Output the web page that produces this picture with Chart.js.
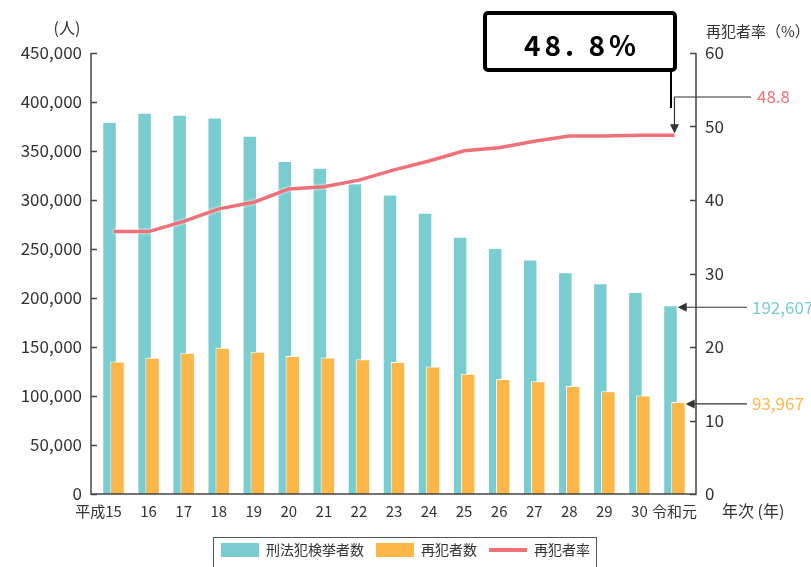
<!DOCTYPE html>
<html><head><meta charset="utf-8">
<script src="https://cdn.jsdelivr.net/npm/chart.js@4/dist/chart.umd.min.js"></script>
<style>html,body{margin:0;padding:0;background:#fff}#wrap{width:811px;height:567px;position:relative}canvas{display:block}</style>
</head><body><div id="wrap"><canvas id="c" width="811" height="567" style="width:811px;height:567px"></canvas></div>
<script>
const categories = ['平成15','16','17','18','19','20','21','22','23','24','25','26','27','28','29','30','令和元'];
const arrestees = [379602,389027,386955,384250,365577,339752,332888,317000,305631,287021,262486,251115,239355,226376,215003,206094,192607];
const reoffenders = [135295,138997,144018,149164,145052,140939,139265,137614,134648,130077,122638,117435,114944,110200,104774,100601,93967];
const reoffenseRate = [35.7,35.7,37.1,38.8,39.7,41.5,41.8,42.7,44.1,45.3,46.7,47.1,48.0,48.7,48.7,48.8,48.8];
const seriesNames = ['刑法犯検挙者数','再犯者数','再犯者率'];
const leftAxisMax = 450000, leftAxisStep = 50000;
const rightAxisMax = 60, rightAxisStep = 10;
const calloutText = '48. 8%';

const FONT = '"Noto Sans CJK JP", "Noto Sans", sans-serif';
const TEAL = '#79cdd0', ORANGE = '#fdb749', RED = '#f07078';
const TEXT = '#333';

const decor = {
  id: 'decor',
  beforeDatasetDraw(chart, args) {
    if (args.index === 1) return false;
    if (args.index === 2) {
      const ctx = chart.ctx; ctx.save();
      ctx.shadowColor = 'rgba(255,255,255,1)'; ctx.shadowBlur = 3;
    }
  },
  afterDatasetDraw(chart, args) {
    if (args.index === 0) {
      chart.getDatasetMeta(1).controller.draw();
    }
    if (args.index === 2) chart.ctx.restore();
  },
  afterDraw(chart) {
    const ctx = chart.ctx;
    const y = chart.scales.y, y1 = chart.scales.y1, x = chart.scales.x;
    const L = chart.chartArea.left - 5, R = chart.chartArea.right + 4;
    const T = y.getPixelForValue(leftAxisMax), B = y.getPixelForValue(0);
    ctx.save();
    ctx.strokeStyle = '#444'; ctx.lineWidth = 1.5;
    ctx.beginPath();
    ctx.moveTo(L, T); ctx.lineTo(L, B); ctx.lineTo(R, B); ctx.lineTo(R, T);
    for (let v = 0; v <= leftAxisMax; v += leftAxisStep) {
      const p = Math.round(y.getPixelForValue(v)) + 0.5;
      ctx.moveTo(L, p); ctx.lineTo(L + 6, p);
    }
    for (let v = 0; v <= rightAxisMax; v += rightAxisStep) {
      const p = Math.round(y1.getPixelForValue(v)) + 0.5;
      ctx.moveTo(R, p); ctx.lineTo(R - 6, p);
    }
    ctx.stroke();

    ctx.fillStyle = TEXT; ctx.textBaseline = 'middle';
    ctx.font = '16px ' + FONT; ctx.textAlign = 'center';
    ctx.fillText('(人)', 67, 28);
    ctx.font = '15px ' + FONT; ctx.textAlign = 'left';
    ctx.fillText('再犯者率（%）', 706, 31);
    ctx.font = '16px ' + FONT;
    ctx.fillText('年次 (年)', 722, 511);

    ctx.strokeStyle = '#000'; ctx.lineWidth = 4;
    ctx.beginPath(); ctx.roundRect(485, 13, 190, 57, 3); ctx.stroke();
    ctx.fillStyle = '#000'; ctx.textAlign = 'center';
    ctx.font = 'bold 28px ' + FONT;
    ctx.letterSpacing = '4px';
    ctx.fillText(calloutText, 582, 45);
    ctx.letterSpacing = '0px';
    ctx.lineWidth = 2;
    ctx.beginPath(); ctx.moveTo(671, 70); ctx.lineTo(671, 108); ctx.stroke();

    const last = categories.length - 1;
    const xl = x.getPixelForValue(last);
    const arrowHead = (tx, ty, dir) => {
      ctx.beginPath();
      if (dir === 'down') { ctx.moveTo(tx, ty); ctx.lineTo(tx - 4.5, ty - 9); ctx.lineTo(tx + 4.5, ty - 9); }
      else { ctx.moveTo(tx, ty); ctx.lineTo(tx + 9, ty - 4.5); ctx.lineTo(tx + 9, ty + 4.5); }
      ctx.closePath(); ctx.fill();
    };
    ctx.strokeStyle = '#333'; ctx.fillStyle = '#333'; ctx.lineWidth = 1.2;
    const rateY = y1.getPixelForValue(reoffenseRate[last]) - 2;
    ctx.beginPath(); ctx.moveTo(751, 97); ctx.lineTo(xl, 97); ctx.lineTo(xl, rateY - 8); ctx.stroke();
    arrowHead(xl, rateY, 'down');
    const m0 = chart.getDatasetMeta(0).data[last], m1 = chart.getDatasetMeta(1).data[last];
    const t0x = m0.x + m0.width / 2, t0y = m0.y + 2;
    const t1x = m1.x + m1.width / 2, t1y = m1.y + 2;
    ctx.beginPath(); ctx.moveTo(747, t0y); ctx.lineTo(t0x + 8, t0y); ctx.stroke();
    arrowHead(t0x, t0y, 'left');
    ctx.beginPath(); ctx.moveTo(747, t1y); ctx.lineTo(t1x + 8, t1y); ctx.stroke();
    arrowHead(t1x, t1y, 'left');

    ctx.font = '17px ' + FONT; ctx.textAlign = 'left'; ctx.textBaseline = 'middle';
    ctx.fillStyle = RED; ctx.fillText(reoffenseRate[last].toFixed(1), 757, 97);
    ctx.fillStyle = TEAL; ctx.fillText(arrestees[last].toLocaleString('en-US'), 752, t0y);
    ctx.fillStyle = ORANGE; ctx.fillText(reoffenders[last].toLocaleString('en-US'), 752, t1y);

    const hb = chart.legend.legendHitBoxes;
    if (hb && hb.length) {
      const l = hb[0].left - 8, r = hb[hb.length - 1].left + hb[hb.length - 1].width + 6;
      ctx.strokeStyle = '#555'; ctx.lineWidth = 1;
      ctx.strokeRect(Math.round(l) + 0.5, 537.5, Math.round(r - l), 45);
    }
    ctx.restore();
  }
};

new Chart(document.getElementById('c'), {
  data: {
    labels: categories,
    datasets: [
      { type: 'bar', label: seriesNames[0], data: arrestees, yAxisID: 'y', backgroundColor: TEAL, borderColor: '#fff', borderWidth: 1, borderSkipped: 'start', categoryPercentage: 0.4564, barPercentage: 1.81, order: 0 },
      { type: 'bar', label: seriesNames[1], data: reoffenders, yAxisID: 'y', backgroundColor: ORANGE, borderColor: '#fff', borderWidth: 1, borderSkipped: 'start', categoryPercentage: 0.4564, barPercentage: 1.81, order: 0 },
      { type: 'line', label: seriesNames[2], data: reoffenseRate, yAxisID: 'y1', borderColor: RED, backgroundColor: RED, borderWidth: 3.5, pointRadius: 0, tension: 0, order: -1 }
    ]
  },
  options: {
    responsive: false, animation: false, events: [],
    devicePixelRatio: 1,
    layout: { padding: { top: 53, left: 0, right: 0, bottom: 0 } },
    plugins: {
      tooltip: { enabled: false },
      legend: {
        position: 'bottom',
        labels: {
          usePointStyle: true, pointStyleWidth: 38, boxHeight: 15, padding: 12,
          color: TEXT, font: { size: 14, family: FONT },
          generateLabels(chart) {
            return chart.data.datasets.map((ds, i) => ({
              text: ds.label, datasetIndex: i, hidden: false,
              fillStyle: ds.backgroundColor,
              strokeStyle: ds.type === 'line' ? ds.borderColor : ds.backgroundColor,
              lineWidth: ds.type === 'line' ? 4 : 0,
              pointStyle: ds.type === 'line' ? 'line' : 'rect',
              fontColor: TEXT
            }));
          }
        }
      }
    },
    scales: {
      x: {
        offset: true,
        grid: { display: false, drawTicks: false }, border: { display: false },
        ticks: { color: TEXT, font: { size: 15, family: FONT }, padding: 8, autoSkip: false, maxRotation: 0,
          callback(v, i) { return i === 0 ? categories[i] + '\u3000\u3000' : categories[i]; } },
        afterFit(s) { s.height = 567 - 494 - s.chart.legend.height; }
      },
      y: {
        position: 'left', min: 0, max: leftAxisMax,
        grid: { display: false, drawTicks: false }, border: { display: false },
        ticks: { stepSize: leftAxisStep, color: TEXT, font: { size: 17, family: FONT }, padding: 14,
          callback(v) { return v.toLocaleString('en-US'); } },
        afterFit(s) { s.width = 96; }
      },
      y1: {
        position: 'right', min: 0, max: rightAxisMax,
        grid: { display: false, drawTicks: false }, border: { display: false },
        ticks: { stepSize: rightAxisStep, color: TEXT, font: { size: 17, family: FONT }, padding: 13 },
        afterFit(s) { s.width = 119; }
      }
    }
  },
  plugins: [decor]
});
</script></body></html>
